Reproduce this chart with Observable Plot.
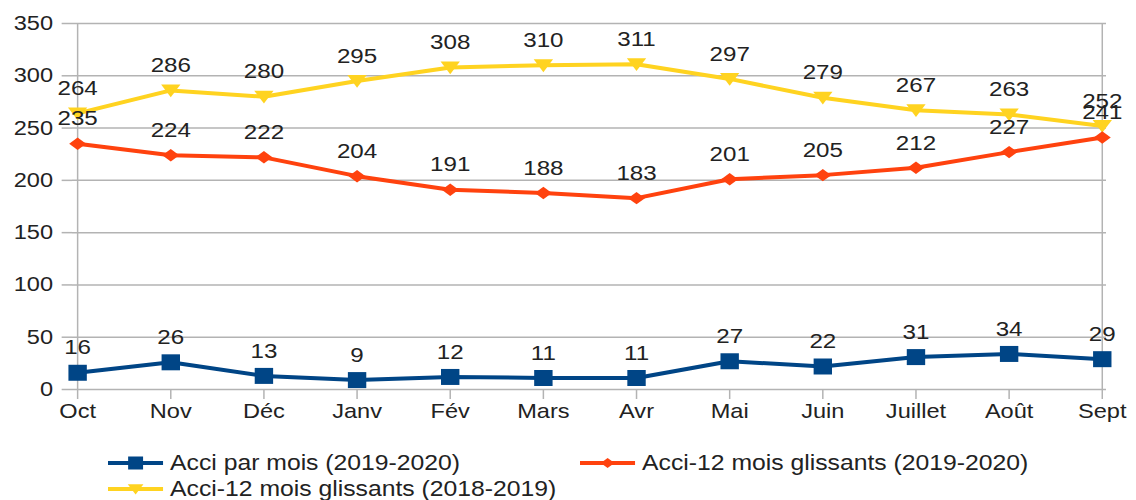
<!DOCTYPE html>
<html><head><meta charset="utf-8">
<script src="https://cdn.jsdelivr.net/npm/d3@7"></script>
<script src="https://cdn.jsdelivr.net/npm/@observablehq/plot@0.6"></script>
<style>
body{margin:0;background:#fff;font-family:"Liberation Sans",Arial,sans-serif;}
#wrap{position:relative;width:1136px;height:500px;overflow:hidden;}
.leg{position:absolute;display:flex;align-items:center;font-size:21.5px;color:#222;white-space:nowrap;transform:scaleX(1.15);transform-origin:0 50%;}
.leg svg{margin-right:6px;}
</style></head><body><div id="wrap"><div id="chart"></div></div>
<script>
const months = ["Oct","Nov","Déc","Janv","Fév","Mars","Avr","Mai","Juin","Juillet","Août","Sept"];
const acciMois = [16,26,13,9,12,11,11,27,22,31,34,29];
const glissants1920 = [235,224,222,204,191,188,183,201,205,212,227,241];
const glissants1819 = [264,286,280,295,308,310,311,297,279,267,263,252];
const seriesNames = ["Acci par mois (2019-2020)","Acci-12 mois glissants (2019-2020)","Acci-12 mois glissants (2018-2019)"];
const yTicks = [0,50,100,150,200,250,300,350];

const colors = ["#004586","#ff420e","#ffd320"];
const stretch = 1.15;           // the reference is drawn slightly stretched horizontally
const W = 1136, H = 440;
const W0 = W / stretch;

// marker symbols (drawn relative to the symbol size)
const sq = {draw(c, size){const r=Math.sqrt(size/Math.PI); const w=r*1.0, h=r*1.0; c.rect(-w,-h,2*w,2*h);}};
const dia = {draw(c, size){const r=Math.sqrt(size/Math.PI); const w=r*0.92, h=r*0.78; c.moveTo(0,-h); c.lineTo(w,0); c.lineTo(0,h); c.lineTo(-w,0); c.closePath();}};
const tri = {draw(c, size){const r=Math.sqrt(size/Math.PI); const w=r*1.05; c.moveTo(-w,-r*0.75); c.lineTo(w,-r*0.75); c.lineTo(0,r*0.85); c.closePath();}};
const symbols = [sq, dia, tri];

const rows = (vals, k) => months.map((m,i)=>({month:m, value:vals[i], series:seriesNames[k]}));
const series = [rows(acciMois,0), rows(glissants1920,1), rows(glissants1819,2)];

const marks = [
  Plot.gridY(yTicks,{stroke:"#b3b3b3", strokeOpacity:1, strokeWidth:1.5}),
  Plot.ruleX([months[0], months[months.length-1]], {stroke:"#b3b3b3", strokeWidth:1.3}),
  Plot.axisY(yTicks,{tickSize:9, tickPadding:8, stroke:"#b3b3b3", strokeWidth:1.5, fill:"#222", label:null, fontSize:20.5}),
  Plot.axisX({tickSize:10, tickPadding:4, stroke:"#b3b3b3", strokeWidth:1.3, fill:"#222", label:null, fontSize:20.5})
];
[2,1,0].forEach(k=>{
  marks.push(Plot.line(series[k],{x:"month", y:"value", stroke:colors[k], strokeWidth:4}));
  marks.push(Plot.dot(series[k],{x:"month", y:"value", r:8, symbol:()=>symbols[k], fill:colors[k], stroke:"none"}));
});
[0,1,2].forEach(k=>{
  marks.push(Plot.text(series[k],{x:"month", y:"value", text:d=>String(d.value), dy:-25, fontSize:21, fill:"#222"}));
});

const chart = Plot.plot({
  width:W0, height:H,
  marginTop:23, marginBottom:51, marginLeft:72/stretch, marginRight:30/stretch,
  style:{fontFamily:"Liberation Sans, Arial, sans-serif", fontSize:"20px", color:"#222", background:"#fff", overflow:"visible"},
  x:{type:"point", domain:months, padding:0, label:null},
  y:{domain:[0,350], label:null},
  symbol:{type:"identity"},
  marks
});
chart.setAttribute("width", W);
chart.setAttribute("height", H);
chart.setAttribute("viewBox", `0 0 ${W0} ${H}`);
chart.setAttribute("preserveAspectRatio", "none");
chart.style.width = W+"px";
chart.style.height = H+"px";
chart.style.maxWidth = "none";
document.getElementById("chart").appendChild(chart);

// legend
const legPos = [[108,450],[580,450],[108,476]];
const wrap = document.getElementById("wrap");
seriesNames.forEach((name,k)=>{
  const div = document.createElement("div");
  div.className="leg";
  div.style.left = legPos[k][0]+"px";
  div.style.top = legPos[k][1]+"px";
  const s = d3.create("svg").attr("width",48).attr("height",26);
  s.append("line").attr("x1",0).attr("x2",48).attr("y1",13).attr("y2",13).attr("stroke",colors[k]).attr("stroke-width",4);
  const r = 6.5;
  const p = d3.path(); symbols[k].draw(p, Math.PI*r*r);
  s.append("path").attr("d",p.toString()).attr("transform","translate(24,13)").attr("fill",colors[k]);
  div.appendChild(s.node());
  const t = document.createElement("span"); t.textContent = name;
  div.appendChild(t);
  wrap.appendChild(div);
});
</script></body></html>
